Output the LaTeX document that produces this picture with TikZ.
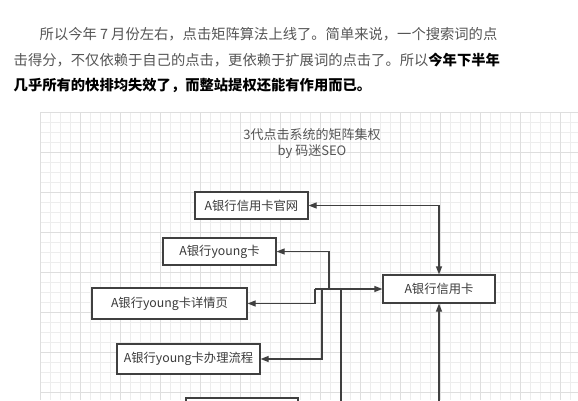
\documentclass[tikz,border=0pt]{standalone}
\usepackage{fontspec}
\setmainfont{Noto Sans CJK SC}
\usetikzlibrary{arrows.meta}
\definecolor{txtgray}{HTML}{555555}
\definecolor{boxtxt}{HTML}{3A3A3A}
\definecolor{lineclr}{HTML}{404040}
\definecolor{gridminor}{HTML}{EDEDED}
\definecolor{gridmajor}{HTML}{DEDEDE}
\tikzset{
  para/.style={anchor=base west, inner sep=0pt, font=\fontsize{14.3}{16}\selectfont, text=txtgray},
  boxnode/.style={draw=lineclr, line width=1.2pt, fill=white, inner sep=0pt, text=boxtxt, font=\fontsize{12.3}{14}\selectfont},
  conn/.style={draw=lineclr, line width=1.2pt, >={Triangle[length=8pt,width=6pt]}},
  titletxt/.style={inner sep=0pt, text=txtgray, font=\fontsize{13}{15}\selectfont, align=center}
}
\begin{document}
\begin{tikzpicture}[x=1pt,y=-1pt]
\useasboundingbox (0,0) rectangle (578,400);
\clip (0,0) rectangle (578,400);
\fill[white] (0,0) rectangle (578,400);
% grid
\foreach \gx in {40,50,...,578}{\draw[gridminor, line width=0.6pt] (\gx,112) -- (\gx,400);}
\foreach \gy in {112,122,...,400}{\draw[gridminor, line width=0.6pt] (40,\gy) -- (578,\gy);}
\foreach \gx in {40,80,...,578}{\draw[gridmajor, line width=0.8pt] (\gx,112) -- (\gx,400);}
\foreach \gy in {112,152,...,400}{\draw[gridmajor, line width=0.8pt] (40,\gy) -- (578,\gy);}
% paragraph
\node[para] (p1) at (39.5,39.5) {所以今年 7 月份左右，点击矩阵算法上线了。简单来说，一个搜索词的点};
\node[para] (p2) at (13.5,65) {击得分，不仅依赖于自己的点击，更依赖于扩展词的点击了。所以\textbf{\color{black}今年下半年}};
\node[para, text=black, font=\fontsize{14.3}{16}\selectfont\bfseries] (p3) at (13.5,90) {几乎所有的快排均失效了，而整站提权还能有作用而已。};
% title
\node[titletxt] (title) at (312,144) {3代点击系统的矩阵集权\\[1pt]by 码迷SEO};
% boxes
\node[boxnode, minimum width=113pt, minimum height=27pt] (guanwang) at (251.5,205.5) {A银行信用卡官网};
\node[boxnode, minimum width=113pt, minimum height=27pt] (young) at (219.5,251.5) {A银行young卡};
\node[boxnode, minimum width=155pt, minimum height=31pt] (xiangqing) at (169.5,303.5) {A银行young卡详情页};
\node[boxnode, minimum width=143pt, minimum height=30pt] (banli) at (188.5,359) {A银行young卡办理流程};
\node[boxnode, minimum width=112pt, minimum height=28pt] (xinyongka) at (439,289) {A银行信用卡};
\node[boxnode, minimum width=112pt, minimum height=30pt] (bottombox) at (242,413) {};
% junctions
\coordinate (j1) at (329,289);
\coordinate (j2) at (315,289);
\coordinate (j3) at (322,289);
\coordinate (j4) at (341,289);
\coordinate (b4) at (341,430);
\coordinate (b5) at (439,430);
% connectors
\draw[conn,<->] (guanwang.east) -| (xinyongka.north);
\draw[conn,<-] (young.east) -| (j1);
\draw[conn,<-] (xiangqing.east) -| (j2);
\draw[conn,<-] (banli.east) -| (j3);
\draw[conn,->] (j2) -- (xinyongka.west);
\draw[conn] (b4) -- (j4);
\draw[conn,->] (b5) -- (xinyongka.south);
\end{tikzpicture}
\end{document}
